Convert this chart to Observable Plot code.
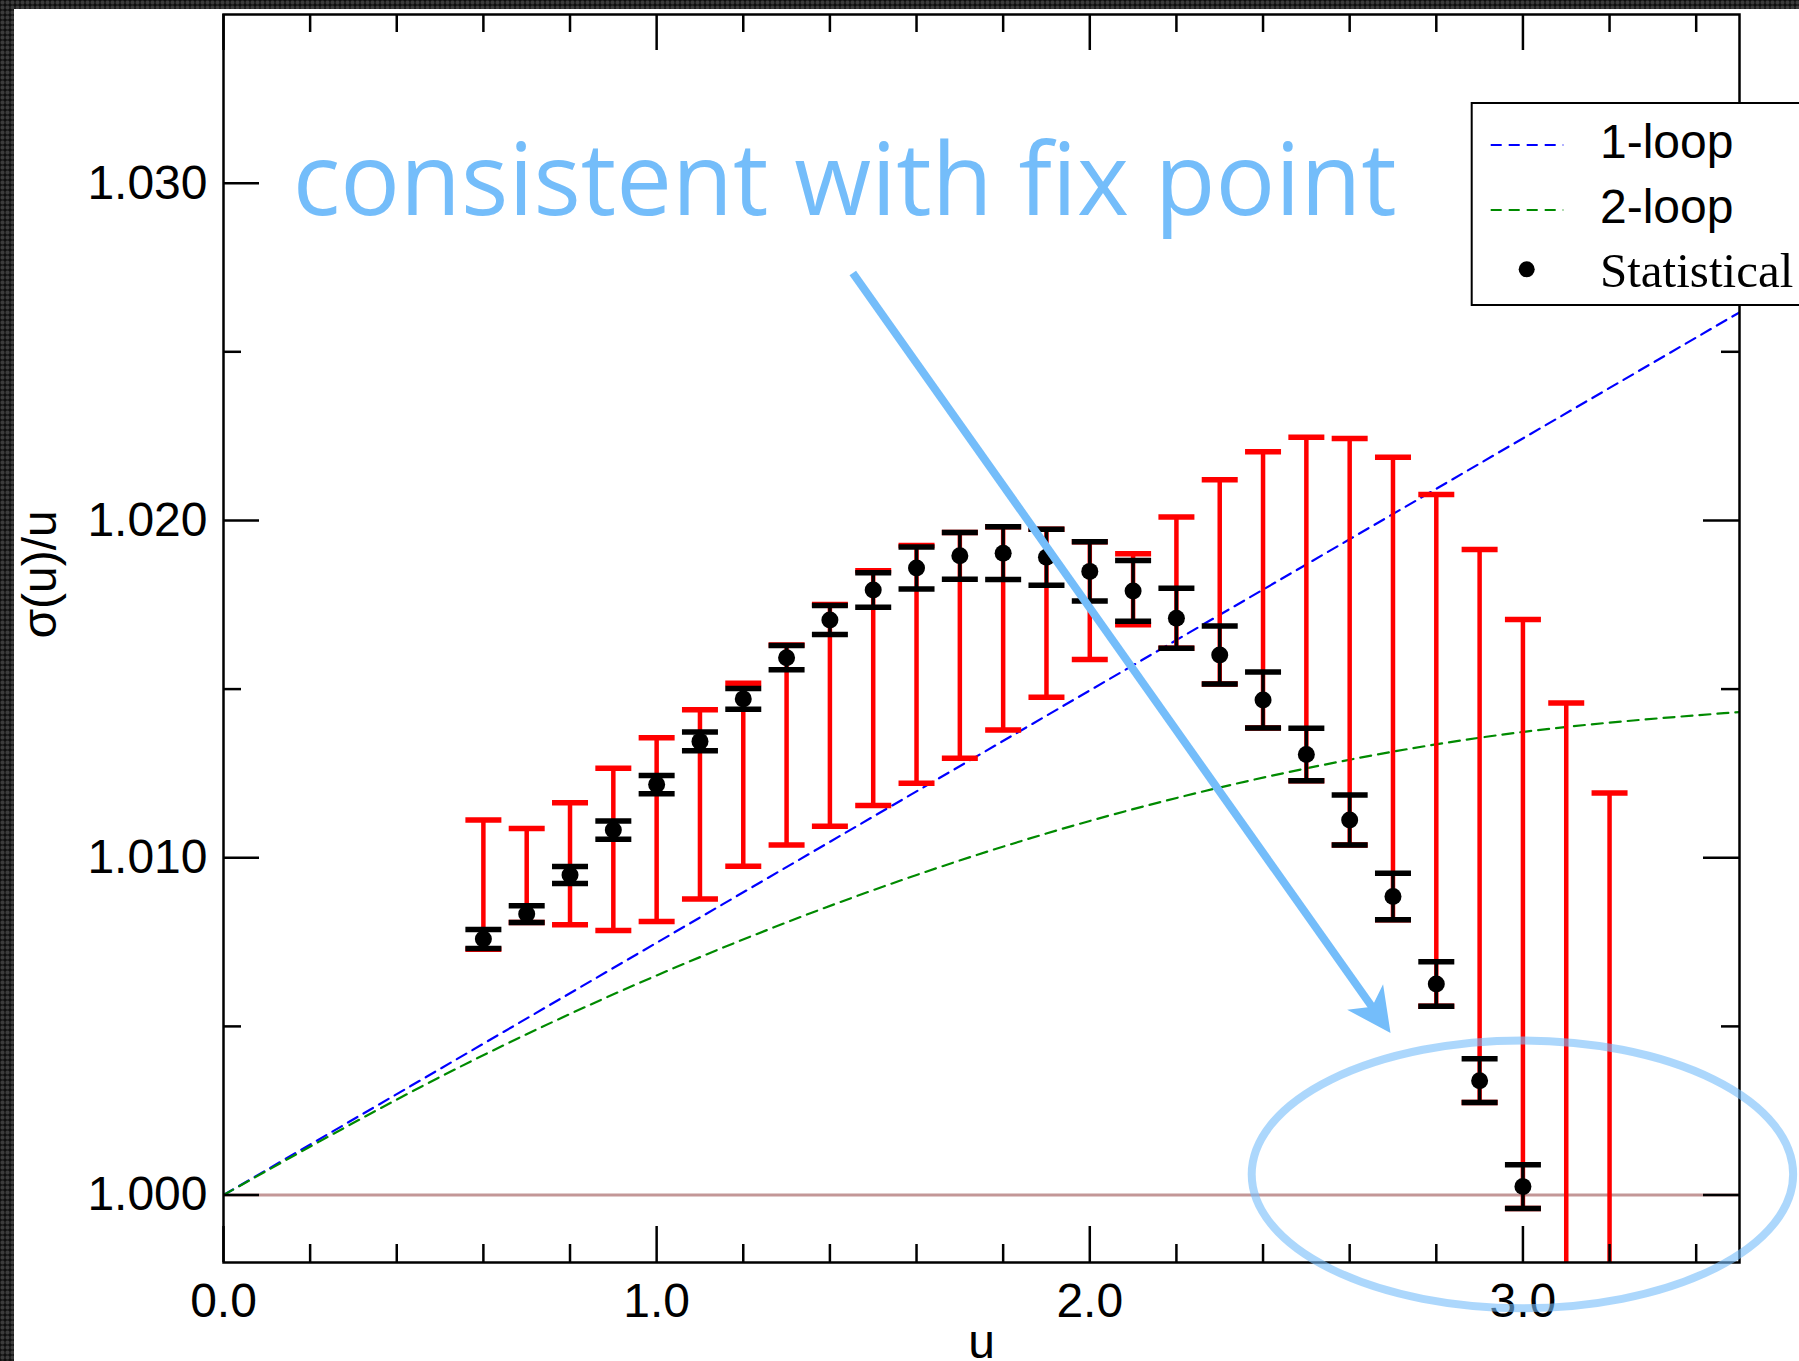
<!DOCTYPE html>
<html>
<head>
<meta charset="utf-8">
<script src="https://cdn.jsdelivr.net/npm/d3@7"></script>
<script src="https://cdn.jsdelivr.net/npm/@observablehq/plot@0.6"></script>
<style>
  html, body { margin: 0; padding: 0; }
  body {
    width: 1799px; height: 1361px; overflow: hidden; position: relative;
    background: radial-gradient(circle at 50% 50%, #3c3c3c 0 1.4px, #0e0e0e 2.6px) 0 0 / 5px 5px, #151515;
  }
  #panel { position: absolute; left: 14px; top: 9px; width: 1785px; height: 1352px; background: #fff; overflow: hidden; }
</style>
</head>
<body>
<div id="panel"></div>
<script>
// Step scaling function sigma(u)/u: statistical points, systematic bands and perturbative curves

// Measured points with statistical errors
const uPoints = [0.6, 0.7, 0.8, 0.9, 1.0, 1.1, 1.2, 1.3, 1.4, 1.5, 1.6, 1.7, 1.8, 1.9, 2.0,
                 2.1, 2.2, 2.3, 2.4, 2.5, 2.6, 2.7, 2.8, 2.9, 3.0];
const sigmaOverU = [1.00759, 1.00833, 1.00949, 1.01082, 1.01217, 1.01345, 1.01471, 1.01593,
                    1.01705, 1.01794, 1.01859, 1.01895, 1.01903, 1.01891, 1.01849, 1.01791,
                    1.01710, 1.01601, 1.01468, 1.01306, 1.01112, 1.00885, 1.00626, 1.00339, 1.00025];
const statError = [0.00028, 0.00025, 0.00025, 0.00027, 0.00027, 0.00028, 0.00031, 0.00036,
                   0.00043, 0.00051, 0.00062, 0.00069, 0.00078, 0.00083, 0.00088, 0.00090,
                   0.00089, 0.00086, 0.00083, 0.00078, 0.00074, 0.00069, 0.00066, 0.00065, 0.00065];

// Systematic ranges (red bars)
const uBands = [0.6, 0.7, 0.8, 0.9, 1.0, 1.1, 1.2, 1.3, 1.4, 1.5, 1.6, 1.7, 1.8, 1.9, 2.0,
                2.1, 2.2, 2.3, 2.4, 2.5, 2.6, 2.7, 2.8, 2.9, 3.0, 3.1, 3.2];
const bandLow = [1.00729, 1.00808, 1.00801, 1.00784, 1.00811, 1.00878, 1.00975, 1.01038,
                 1.01093, 1.01155, 1.01221, 1.01295, 1.01379, 1.01476, 1.01588, 1.01691,
                 1.01621, 1.01515, 1.01385, 1.01228, 1.01038, 1.00816, 1.00560, 1.00274,
                 0.99960, 0.99500, 0.99500];
const bandHigh = [1.01112, 1.01087, 1.01163, 1.01265, 1.01356, 1.01439, 1.01517, 1.01631,
                  1.01751, 1.01851, 1.01926, 1.01964, 1.01981, 1.01974, 1.01937, 1.01901,
                  1.02010, 1.02121, 1.02204, 1.02247, 1.02243, 1.02187, 1.02077, 1.01914,
                  1.01706, 1.01459, 1.01192];

// Perturbative curves
const oneLoopU = [0, 2.0, 3.5];
const oneLoopS = [1.0, 1.01496, 1.02617];
const twoLoopU = [0, 0.5, 1.0, 1.5, 2.0, 2.5, 3.0, 3.5];
const twoLoopS = [1.0, 1.00350, 1.00651, 1.00904, 1.01109, 1.01265, 1.01373, 1.01432];

// Axes
const xDomain = [0, 3.5];
const yDomain = [0.998, 1.035];
const xMajor = [0, 1, 2, 3];
const xMinor = [0.2, 0.4, 0.6, 0.8, 1.2, 1.4, 1.6, 1.8, 2.2, 2.4, 2.6, 2.8, 3.2, 3.4];
const yMajor = [1.000, 1.010, 1.020, 1.030];
const yMinor = [1.005, 1.015, 1.025];
const xLabel = "u";
const yLabel = "σ(u)/u";

// Legend and annotation
const legendLabels = ["1-loop", "2-loop", "Statistical"];
const noteText = "consistent with fix point";
const notePos = [0.161, 1.02904];
const arrowFrom = [1.454, 1.02732];
const arrowTo = [2.6955, 1.00479];
const ringCenter = [3.0, 1.0006];
const ringRadius = [0.625, 0.00397];

const points = uPoints.map((u, i) => ({u, s: sigmaOverU[i], e: statError[i]}));
const bands = uBands.map((u, i) => ({u, lo: bandLow[i], hi: bandHigh[i]}));
const oneLoop = oneLoopU.map((u, i) => ({u, s: oneLoopS[i]}));
const twoLoop = twoLoopU.map((u, i) => ({u, s: twoLoopS[i]}));

const W = 1785, H = 1352;
const mL = 209, mR = 60, mT = 5, mB = 99;
const FW = W - mL - mR, FH = H - mT - mB;

// horizontal error-bar cap
const capSymbol = {
  draw(context, size) {
    const h = Math.sqrt(size / Math.PI);
    context.moveTo(-h, 0);
    context.lineTo(h, 0);
  }
};

const plot = Plot.plot({
  width: W, height: H,
  marginLeft: mL, marginRight: mR, marginTop: mT, marginBottom: mB,
  x: {domain: xDomain, axis: null},
  y: {domain: yDomain, axis: null},
  style: {background: "white", fontFamily: "'Liberation Sans', Arial, Helvetica, sans-serif", fontSize: "48px", color: "black"},
  marks: [
    Plot.ruleY([1.0], {stroke: "#c39797", strokeWidth: 3}),
    Plot.line(oneLoop, {x: "u", y: "s", stroke: "#0000ff", strokeWidth: 2.2, strokeDasharray: "11,7", clip: true}),
    Plot.line(twoLoop, {x: "u", y: "s", stroke: "#008a00", strokeWidth: 2.2, strokeDasharray: "11,7", curve: "natural", clip: true}),
    // systematic bars
    Plot.ruleX(bands, {x: "u", y1: "lo", y2: "hi", stroke: "#ff0000", strokeWidth: 4.5, clip: true}),
    Plot.dot(bands, {x: "u", y: "lo", symbol: capSymbol, r: 18, fill: "none", stroke: "#ff0000", strokeWidth: 5.5, clip: true}),
    Plot.dot(bands, {x: "u", y: "hi", symbol: capSymbol, r: 18, fill: "none", stroke: "#ff0000", strokeWidth: 5.5, clip: true}),
    // statistical bars
    Plot.ruleX(points, {x: "u", y1: d => d.s - d.e, y2: d => d.s + d.e, stroke: "black", strokeWidth: 3.5}),
    Plot.dot(points, {x: "u", y: d => d.s - d.e, symbol: capSymbol, r: 18, fill: "none", stroke: "black", strokeWidth: 5.5}),
    Plot.dot(points, {x: "u", y: d => d.s + d.e, symbol: capSymbol, r: 18, fill: "none", stroke: "black", strokeWidth: 5.5}),
    Plot.dot(points, {x: "u", y: "s", r: 8.5, fill: "black"}),
    // inward ticks on all four sides
    Plot.tickX(xMajor, {x: d => d, insetTop: FH - 36, stroke: "black", strokeWidth: 2.5}),
    Plot.tickX(xMinor, {x: d => d, insetTop: FH - 18, stroke: "black", strokeWidth: 2.5}),
    Plot.tickX(xMajor, {x: d => d, insetBottom: FH - 36, stroke: "black", strokeWidth: 2.5}),
    Plot.tickX(xMinor, {x: d => d, insetBottom: FH - 18, stroke: "black", strokeWidth: 2.5}),
    Plot.tickY(yMajor, {y: d => d, insetRight: FW - 36, stroke: "black", strokeWidth: 2.5}),
    Plot.tickY(yMinor, {y: d => d, insetRight: FW - 18, stroke: "black", strokeWidth: 2.5}),
    Plot.tickY(yMajor, {y: d => d, insetLeft: FW - 36, stroke: "black", strokeWidth: 2.5}),
    Plot.tickY(yMinor, {y: d => d, insetLeft: FW - 18, stroke: "black", strokeWidth: 2.5}),
    Plot.frame({stroke: "black", strokeWidth: 2.5}),
    // tick labels and axis titles
    Plot.text(xMajor, {x: d => d, frameAnchor: "bottom", lineAnchor: "top", dy: 20, text: d => d.toFixed(1), fontSize: 48, fill: "black"}),
    Plot.text(yMajor, {y: d => d, frameAnchor: "left", textAnchor: "end", dx: -16, text: d => d.toFixed(3), fontSize: 48, fill: "black"}),
    Plot.text([xLabel], {frameAnchor: "bottom", lineAnchor: "bottom", dy: 95, fontSize: 48, fill: "black"}),
    Plot.text([yLabel], {frameAnchor: "left", rotate: -90, lineAnchor: "bottom", dx: -168, fontSize: 48, fill: "black"})
  ]
});

document.getElementById("panel").appendChild(plot);

const xs = plot.scale("x"), ys = plot.scale("y");
const X = xs.apply ? (v => xs.apply(v)) : d3.scaleLinear(xs.domain, xs.range);
const Y = ys.apply ? (v => ys.apply(v)) : d3.scaleLinear(ys.domain, ys.range);
const svg = d3.select(plot);

// Legend
const lg = svg.append("g").attr("text-anchor", "start");
lg.append("rect").attr("x", 1457.7).attr("y", 94).attr("width", 420).attr("height", 202)
  .attr("fill", "white").attr("stroke", "black").attr("stroke-width", 2);
lg.append("line").attr("x1", 1476.7).attr("x2", 1549.3).attr("y1", 136).attr("y2", 136)
  .attr("stroke", "#0000ff").attr("stroke-width", 2.2).attr("stroke-dasharray", "11,7");
lg.append("line").attr("x1", 1476.7).attr("x2", 1549.3).attr("y1", 201).attr("y2", 201)
  .attr("stroke", "#008a00").attr("stroke-width", 2.2).attr("stroke-dasharray", "11,7");
lg.append("circle").attr("cx", 1512.7).attr("cy", 260.3).attr("r", 8).attr("fill", "black");
lg.append("text").attr("x", 1586).attr("y", 149.3).attr("font-size", 48).attr("text-anchor", "start")
  .attr("font-family", "'Liberation Sans', Arial, sans-serif").text(legendLabels[0]);
lg.append("text").attr("x", 1586).attr("y", 214.3).attr("font-size", 48).attr("text-anchor", "start")
  .attr("font-family", "'Liberation Sans', Arial, sans-serif").text(legendLabels[1]);
lg.append("text").attr("x", 1586).attr("y", 277.7).attr("font-size", 49).attr("text-anchor", "start")
  .attr("font-family", "'Liberation Serif', 'Times New Roman', serif").text(legendLabels[2]);

// Annotation: note, arrow and ring
const blue = "#74bdfa";
const ann = svg.append("g").attr("text-anchor", "start");
ann.append("text").attr("x", X(notePos[0])).attr("y", Y(notePos[1])).attr("text-anchor", "start")
  .attr("font-family", "'Open Sans', 'Noto Sans', sans-serif").attr("font-size", 100)
  .attr("textLength", 1104).attr("lengthAdjust", "spacingAndGlyphs")
  .attr("fill", blue).text(noteText);

const x0 = X(arrowFrom[0]), y0 = Y(arrowFrom[1]);
const x1 = X(arrowTo[0]), y1 = Y(arrowTo[1]);
const len = Math.hypot(x1 - x0, y1 - y0);
const ux = (x1 - x0) / len, uy = (y1 - y0) / len;
const px = -uy, py = ux;
const back = 44, half = 22, notch = 32;
ann.append("line").attr("x1", x0).attr("y1", y0)
  .attr("x2", x1 - ux * (notch - 2)).attr("y2", y1 - uy * (notch - 2))
  .attr("stroke", blue).attr("stroke-width", 8);
ann.append("path")
  .attr("d", `M${x1},${y1}L${x1 - ux * back + px * half},${y1 - uy * back + py * half}` +
             `L${x1 - ux * notch},${y1 - uy * notch}` +
             `L${x1 - ux * back - px * half},${y1 - uy * back - py * half}Z`)
  .attr("fill", blue);

const cx = X(ringCenter[0]), cy = Y(ringCenter[1]);
ann.append("ellipse").attr("cx", cx).attr("cy", cy)
  .attr("rx", X(ringCenter[0] + ringRadius[0]) - cx)
  .attr("ry", Y(ringCenter[1] - ringRadius[1]) - cy)
  .attr("fill", "none").attr("stroke", blue).attr("stroke-opacity", 0.6).attr("stroke-width", 8);
</script>
</body>
</html>
